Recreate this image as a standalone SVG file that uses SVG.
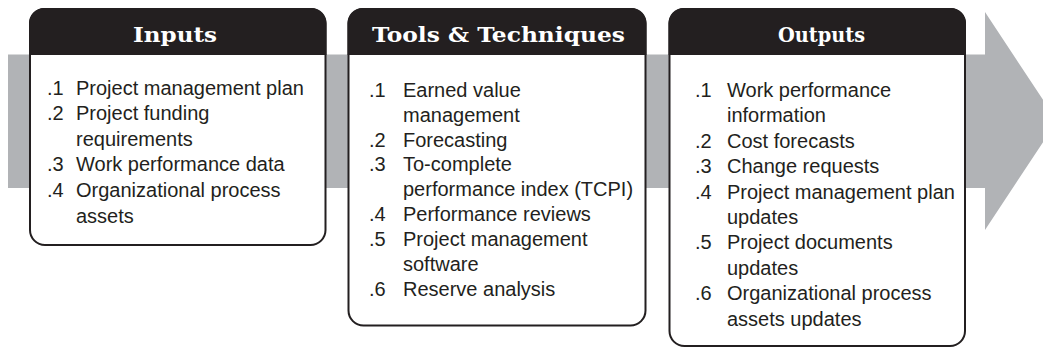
<svg xmlns="http://www.w3.org/2000/svg" width="1043" height="348" viewBox="0 0 1043 348">
<style>
.box{fill:#ffffff;stroke:#231f20;stroke-width:2}
.hdr{fill:#231f20}
.ht{font-family:"DejaVu Serif",serif;font-weight:bold;font-size:20.5px;fill:#ffffff;text-anchor:middle}
.t{font-family:"Liberation Sans",Arial,sans-serif;font-size:20px;fill:#231f20}
</style>
<rect width="1043" height="348" fill="#ffffff"/>
<g id="connectors">
<polygon points="8,54.5 985,54.5 985,12 1057,121 985,230 985,188 8,188" fill="#b1b3b6"/>
</g>
<g id="inputs">
<rect class="box" x="30" y="9" width="295.5" height="236" rx="15"/>
<path class="hdr" d="M29,55 V24 A15,15 0 0 1 44,8 H311.5 A15,15 0 0 1 326.5,24 V55 Z"/>
<text class="ht" x="175" y="42" textLength="84" lengthAdjust="spacingAndGlyphs">Inputs</text>
<text class="t"><tspan x="47" y="94.5">.1</tspan><tspan x="76" y="94.5">Project management plan</tspan>
<tspan x="47" y="120">.2</tspan><tspan x="76" y="120">Project funding</tspan>
<tspan x="76" y="145.7">requirements</tspan>
<tspan x="47" y="171.3">.3</tspan><tspan x="76" y="171.3">Work performance data</tspan>
<tspan x="47" y="197">.4</tspan><tspan x="76" y="197">Organizational process</tspan>
<tspan x="76" y="222.6">assets</tspan></text>
</g>
<g id="tools">
<rect class="box" x="348.5" y="9" width="297" height="316.5" rx="15"/>
<path class="hdr" d="M347.5,55 V24 A15,15 0 0 1 362.5,8 H631.5 A15,15 0 0 1 646.5,24 V55 Z"/>
<text class="ht" x="498.5" y="42" textLength="253" lengthAdjust="spacingAndGlyphs">Tools &amp; Techniques</text>
<text class="t"><tspan x="369" y="96.7">.1</tspan><tspan x="403" y="96.7">Earned value</tspan>
<tspan x="403" y="121.6">management</tspan>
<tspan x="369" y="146.5">.2</tspan><tspan x="403" y="146.5">Forecasting</tspan>
<tspan x="369" y="171.4">.3</tspan><tspan x="403" y="171.4">To-complete</tspan>
<tspan x="403" y="196.3">performance index (TCPI)</tspan>
<tspan x="369" y="221.2">.4</tspan><tspan x="403" y="221.2">Performance reviews</tspan>
<tspan x="369" y="246.1">.5</tspan><tspan x="403" y="246.1">Project management</tspan>
<tspan x="403" y="271">software</tspan>
<tspan x="369" y="295.9">.6</tspan><tspan x="403" y="295.9">Reserve analysis</tspan></text>
</g>
<g id="outputs">
<rect class="box" x="669.5" y="9" width="295.5" height="337" rx="15"/>
<path class="hdr" d="M668.5,55 V24 A15,15 0 0 1 683.5,8 H951 A15,15 0 0 1 966,24 V55 Z"/>
<text class="ht" x="821.5" y="42" textLength="87" lengthAdjust="spacingAndGlyphs">Outputs</text>
<text class="t"><tspan x="695" y="97">.1</tspan><tspan x="727" y="97">Work performance</tspan>
<tspan x="727" y="122.4">information</tspan>
<tspan x="695" y="147.8">.2</tspan><tspan x="727" y="147.8">Cost forecasts</tspan>
<tspan x="695" y="173.2">.3</tspan><tspan x="727" y="173.2">Change requests</tspan>
<tspan x="695" y="198.6">.4</tspan><tspan x="727" y="198.6">Project management plan</tspan>
<tspan x="727" y="224">updates</tspan>
<tspan x="695" y="249.4">.5</tspan><tspan x="727" y="249.4">Project documents</tspan>
<tspan x="727" y="274.8">updates</tspan>
<tspan x="695" y="300.2">.6</tspan><tspan x="727" y="300.2">Organizational process</tspan>
<tspan x="727" y="325.6">assets updates</tspan></text>
</g>
</svg>
